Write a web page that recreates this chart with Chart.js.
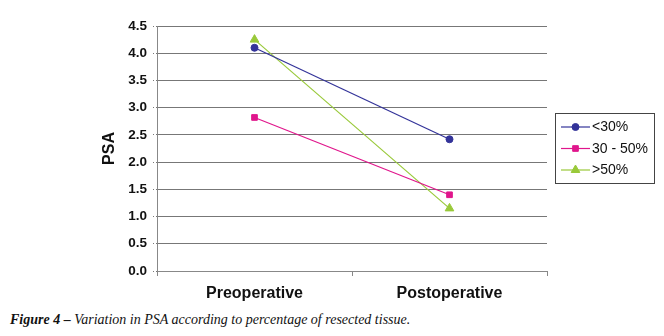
<!DOCTYPE html>
<html>
<head>
<meta charset="utf-8">
<script src="https://cdn.jsdelivr.net/npm/chart.js@4"></script>
<style>
  html, body { margin: 0; padding: 0; background: #fff; }
  #wrap { position: relative; width: 664px; height: 336px; overflow: hidden; }
  #c { position: absolute; left: 0; top: 0; }
  #caption { position: absolute; left: 10px; top: 312px; font-family: "Liberation Serif", "DejaVu Serif", serif; font-style: italic; font-size: 14px; line-height: 16px; color: #111; white-space: nowrap; }
  #caption b { font-weight: bold; }
</style>
</head>
<body>
<div id="wrap">
  <canvas id="c" width="664" height="306"></canvas>
  <div id="caption"><b>Figure 4 –</b> Variation in PSA according to percentage of resected tissue.</div>
</div>
<script>
const categories = ["Preoperative", "Postoperative"];
const seriesNames = ["<30%", "30 - 50%", ">50%"];
const under30 = [4.1, 2.42];
const from30to50 = [2.82, 1.4];
const over50 = [4.25, 1.15];
const yTicks = [0, 0.5, 1, 1.5, 2, 2.5, 3, 3.5, 4, 4.5];

const colors = ["#333399", "#E0168C", "#99C93A"];
const styles = ["circle", "rect", "triangle"];
const radii = [3.5, 4, 5];

const datasets = [under30, from30to50, over50].map((d, i) => ({
  label: seriesNames[i],
  data: d,
  borderColor: colors[i],
  backgroundColor: colors[i],
  borderWidth: 1.2,
  pointStyle: styles[i],
  pointRadius: radii[i],
  pointBorderWidth: 1,
  pointBackgroundColor: colors[i],
  pointBorderColor: colors[i],
  tension: 0
}));

const legendBox = {
  id: 'legendBox',
  afterDraw(chart) {
    const ctx = chart.ctx;
    const x0 = 555.5, y0 = 113.5, w = 99, h = 70;
    ctx.save();
    ctx.strokeStyle = '#444';
    ctx.lineWidth = 1;
    ctx.strokeRect(x0, y0, w, h);
    ctx.font = '14px "Liberation Sans", Arial, sans-serif';
    ctx.textBaseline = 'middle';
    chart.data.datasets.forEach((ds, i) => {
      const y = 127 + i * 21.5;
      ctx.strokeStyle = ds.borderColor;
      ctx.lineWidth = 1.2;
      ctx.beginPath();
      ctx.moveTo(561, y);
      ctx.lineTo(590, y);
      ctx.stroke();
      ctx.fillStyle = ds.pointBackgroundColor;
      ctx.strokeStyle = ds.pointBorderColor;
      ctx.lineWidth = 1;
      Chart.helpers.drawPoint(ctx, {pointStyle: ds.pointStyle, radius: ds.pointRadius, rotation: 0, borderWidth: 1}, 575.5, y);
      ctx.fillStyle = '#111';
      ctx.fillText(ds.label, 592, y + 0.5);
    });
    ctx.restore();
  }
};

new Chart(document.getElementById('c'), {
  type: 'line',
  data: { labels: categories, datasets },
  options: {
    responsive: false,
    animation: false,
    devicePixelRatio: 1,
    layout: { padding: { left: 100, right: 117, top: 26, bottom: 0 } },
    plugins: { legend: { display: false }, tooltip: { enabled: false } },
    scales: {
      x: {
        type: 'category',
        offset: true,
        grid: { offset: true, drawOnChartArea: false, drawTicks: true, tickLength: 5, color: '#888', tickColor: '#888' },
        border: { display: true, color: '#888', width: 1 },
        ticks: { padding: 8, color: '#111', font: { family: '"Liberation Sans", Arial, sans-serif', size: 16, weight: 'bold' } },
        afterFit(s) { s.height = 35; }
      },
      y: {
        min: 0,
        max: 4.5,
        afterBuildTicks(s) { s.ticks = yTicks.map(v => ({ value: v })); },
        grid: { color: '#777', tickLength: 4, borderDash: [1, 2], tickBorderDash: [1, 2], lineWidth: 1, tickColor: '#777' },
        border: { display: true, color: '#888', width: 1 },
        ticks: {
          padding: 6,
          color: '#111',
          font: { family: '"Liberation Sans", Arial, sans-serif', size: 13.5, weight: 'bold' },
          callback: (v) => Number(v).toFixed(1)
        },
        title: { display: true, text: 'PSA', color: '#111', padding: 0, font: { family: '"Liberation Sans", Arial, sans-serif', size: 16, weight: 'bold' } },
        afterFit(s) { s.width = 57; }
      }
    }
  },
  plugins: [legendBox]
});
</script>
</body>
</html>
